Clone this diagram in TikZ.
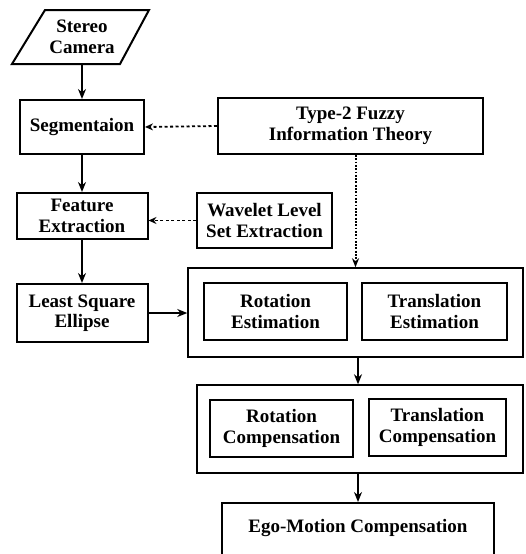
\documentclass[tikz,border=0pt]{standalone}
\usepackage{fontspec}
\setmainfont{Liberation Serif}
\usetikzlibrary{arrows.meta,calc}
\begin{document}
\begin{tikzpicture}[x=1pt,y=1pt,
  every node/.style={font=\bfseries\fontsize{19}{20.5}\selectfont, align=center, inner sep=0pt},
  box/.style={draw, line width=2pt, rectangle},
  outer/.style={draw, line width=1.5pt, rectangle},
  arr/.style={line width=2pt, -{Stealth[length=10pt,width=8pt]}},
  darr/.style={line width=1.8pt, dash pattern=on 3pt off 2.5pt, -{Stealth[length=8pt,width=7pt]}},
  dotarr/.style={line width=2pt, dash pattern=on 1.8pt off 1.5pt, -{Stealth[length=9pt,width=7pt]}}
]
\useasboundingbox (0,0) rectangle (525,-554);
\clip (0,0) rectangle (525,-554);
% Stereo camera (parallelogram)
\draw[line width=2pt, line join=miter] (45,-10) -- (149,-10) -- (120,-64) -- (12,-64) -- cycle;
\node[minimum height=54pt, minimum width=60pt] (cam) at (82,-37) {Stereo\\Camera};
% left column
\node[box, minimum width=124pt, minimum height=54pt] (seg) at (82,-127) {Segmentaion};
\node[box, minimum width=131pt, minimum height=46pt] (feat) at (82,-216) {Feature\\Extraction};
\node[box, minimum width=131pt, minimum height=58pt] (lse) at (82,-313) {Least Square\\Ellipse};
% right
\node[box, minimum width=265pt, minimum height=56pt] (t2) at (350.5,-126) {Type-2 Fuzzy\\Information Theory};
\node[box, minimum width=135pt, minimum height=55pt] (wav) at (264.5,-220.5) {Wavelet Level\\Set Extraction};
\node[outer, minimum width=335pt, minimum height=89pt] (est) at (355.5,-312.5) {};
\node[box, minimum width=143pt, minimum height=57pt] (rest) at (275.5,-311.5) {Rotation\\Estimation};
\node[box, minimum width=145pt, minimum height=57pt] (test) at (434.5,-311.5) {Translation\\Estimation};
\node[outer, minimum width=326pt, minimum height=88pt] (comp) at (360,-429) {};
\node[box, minimum width=143pt, minimum height=57pt] (rcomp) at (281.5,-428.5) {Rotation\\Compensation};
\node[box, minimum width=137pt, minimum height=57pt] (tcomp) at (437.5,-427.5) {Translation\\Compensation};
\node[box, anchor=north, minimum width=272pt, minimum height=90pt] (ego) at (358,-502) {};
\node (egot) at (358,-528) {Ego-Motion Compensation};
% connectors
\draw[arr] (cam.south) -- (seg.north);
\draw[arr] (seg.south) -- (feat.north);
\draw[arr] (feat.south) -- (lse.north);
\draw[darr] (t2.west) -- (seg.east);
\draw[darr] (wav.west) -- (wav.west -| feat.east);
\draw[dotarr] (t2.south -| est.north) -- (est.north);
\draw[arr] (lse.east) -- (lse.east -| est.west);
\draw[arr] (est.south -| ego.north) -- (comp.north -| ego.north);
\draw[arr] (comp.south -| ego.north) -- (ego.north);
\end{tikzpicture}
\end{document}
